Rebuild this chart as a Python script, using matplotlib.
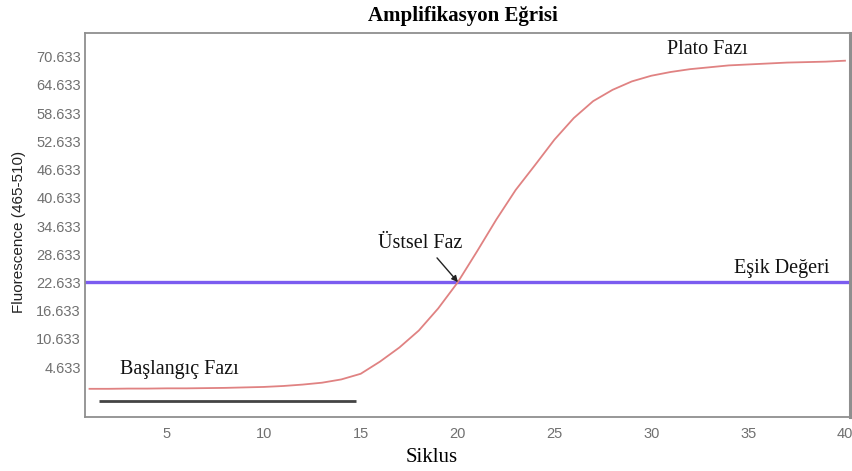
import matplotlib
matplotlib.use("Agg")
import matplotlib.pyplot as plt
import numpy as np

# Amplification curve (fluorescence per cycle)
cycles = list(range(1, 41))
fluorescence = [0.0, 0.0, 0.05, 0.05, 0.1, 0.1, 0.15, 0.2, 0.3, 0.4,
                0.6, 0.9, 1.3, 2.0, 3.2, 5.8, 8.8, 12.4, 17.1, 22.6,
                29.2, 36.0, 42.3, 47.6, 53.0, 57.6, 61.2, 63.6, 65.4, 66.6,
                67.4, 68.0, 68.4, 68.8, 69.0, 69.2, 69.4, 69.5, 69.6, 69.8]
threshold = 22.633
baseline_span = [1.5, 14.75]
baseline_level = -2.6

x_ticks = [5, 10, 15, 20, 25, 30, 35, 40]
y_ticks = [4.633, 10.633, 16.633, 22.633, 28.633, 34.633, 40.633,
           46.633, 52.633, 58.633, 64.633, 70.633]
y_tick_labels = ["4.633", "10.633", "16.633", "22.633", "28.633", "34.633",
                 "40.633", "46.633", "52.633", "58.633", "64.633", "70.633"]

serif = "Liberation Serif"
sans = "Liberation Sans"

fig = plt.figure(figsize=(8.53, 4.71), dpi=100)
ax = fig.add_axes([0.0997, 0.1146, 0.8968, 0.8154])

ax.plot(cycles, fluorescence, color="#e08282", lw=1.3, zorder=3)
ax.axhline(threshold, color="#7b5cf0", lw=2.4, zorder=2)
ax.plot(baseline_span, [baseline_level, baseline_level], color="#444444",
        lw=2.0, solid_capstyle="butt", zorder=3)

ax.set_xlim(0.77, 40.26)
ax.set_ylim(-6.0, 75.7)
ax.set_xticks(x_ticks)
ax.set_xticklabels([str(t) for t in x_ticks])
ax.set_yticks(y_ticks)
ax.set_yticklabels(y_tick_labels)
ax.tick_params(length=0, labelsize=10.5, labelcolor="#707070")
ax.tick_params(axis="y", pad=3)
ax.tick_params(axis="x", pad=7)
for lab in ax.get_xticklabels() + ax.get_yticklabels():
    lab.set_fontfamily(sans)

for s in ax.spines.values():
    s.set_color("#8f8f8f")
    s.set_linewidth(1.3)
ax.spines["right"].set_linewidth(2.2)

# Phase labels
txt = dict(family=serif, fontsize=14.5, color="#111111", ha="center", va="center")
ax.text(32.88, 72.1, "Plato Fazı", **txt)
ax.text(36.75, 25.7, "Eşik Değeri", **txt)
ax.text(18.06, 31.0, "Üstsel Faz", **txt)
ax.text(5.62, 4.2, "Başlangıç Fazı", **txt)
ax.annotate("", xy=(20.02, 22.7), xytext=(18.94, 27.85),
            arrowprops=dict(arrowstyle="-|>", color="#222222", lw=1.0,
                            mutation_scale=9, shrinkA=0, shrinkB=0))

fig.text(0.543, 0.966, "Amplifikasyon Eğrisi", family=serif, fontsize=15,
         fontweight="bold", ha="center", va="center")
fig.text(0.506, 0.028, "Siklus", family=serif, fontsize=15,
         ha="center", va="center")
fig.text(0.022, 0.508, "Fluorescence (465-510)", family=sans, fontsize=11,
         color="#222222", rotation=90, ha="center", va="center")

fig.savefig("out.png", dpi=100)
